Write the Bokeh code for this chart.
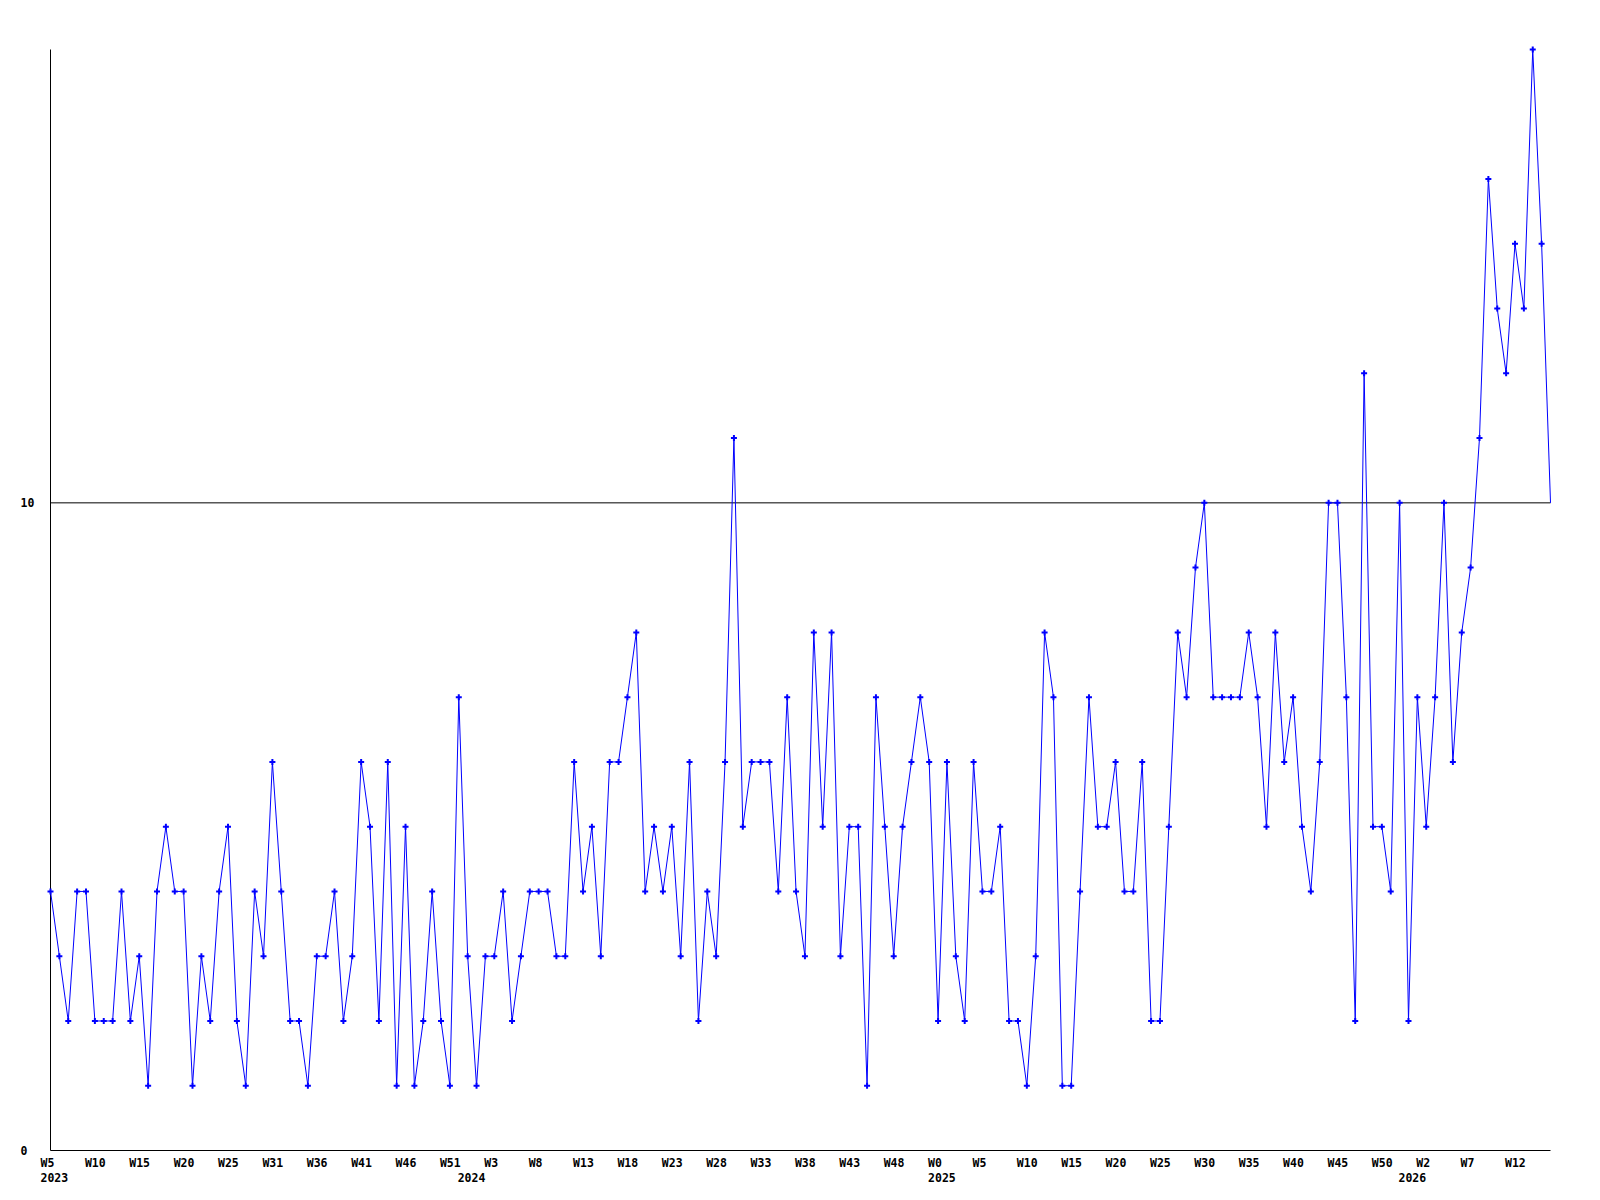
from bokeh.plotting import figure
from bokeh.models import ColumnDataSource, CDSView, IndexFilter, Range1d
from bokeh.core.properties import value
from bokeh.embed import file_html
from bokeh.resources import INLINE

# weekly counts, first point = 2023 W5
counts = [
    4, 3, 2, 4, 4, 2, 2, 2, 4, 2, 3, 1, 4, 5, 4, 4, 1, 3, 2, 4, 5, 2, 1, 4, 3, 6, 4, 2, 2,
    1, 3, 3, 4, 2, 3, 6, 5, 2, 6, 1, 5, 1, 2, 4, 2, 1, 7, 3, 1, 3, 3, 4, 2, 3, 4, 4, 4,
    3, 3, 6, 4, 5, 3, 6, 6, 7, 8, 4, 5, 4, 5, 3, 6, 2, 4, 3, 6, 11, 5, 6, 6, 6, 4, 7, 4,
    3, 8, 5, 8, 3, 5, 5, 1, 7, 5, 3, 5, 6, 7, 6, 2, 6, 3, 2, 6, 4, 4, 5, 2, 2, 1, 3, 8,
    7, 1, 1, 4, 7, 5, 5, 6, 4, 4, 6, 2, 2, 5, 8, 7, 9, 10, 7, 7, 7, 7, 8, 7, 5, 8, 6, 7, 5,
    4, 6, 10, 10, 7, 2, 12, 5, 5, 4, 10, 2, 7, 5, 7, 10, 6, 8, 9, 11, 15, 13, 12, 14, 13, 17, 14, 10,
]

week_labels = ["W5", "W10", "W15", "W20", "W25", "W31", "W36", "W41", "W46", "W51",
               "W3", "W8", "W13", "W18", "W23", "W28", "W33", "W38", "W43", "W48",
               "W0", "W5", "W10", "W15", "W20", "W25", "W30", "W35", "W40", "W45", "W50",
               "W2", "W7", "W12"]
week_label_index = [5 * i for i in range(len(week_labels))]

year_labels = ["2023", "2024", "2025", "2026"]
year_label_index = [0, 47, 100, 153]

y_tick_values = [0, 10]
y_tick_labels = ["0", "10"]

n = len(counts)
xs = list(range(n))
ymax = max(counts)

W, H = 1580, 1192
# frame pixel placement of the data area (layout)
left_px, right_px = 50, 30
top_px, bottom_px = 49, 42
ppx = (W - left_px - right_px) / (n - 1)
ppy = (H - top_px - bottom_px) / ymax

p = figure(width=W, height=H, output_backend="svg", toolbar_location=None,
           x_axis_type=None, y_axis_type=None, min_border=0,
           x_range=Range1d(-left_px / ppx, (n - 1) + right_px / ppx),
           y_range=Range1d(-bottom_px / ppy, ymax + top_px / ppy))
p.outline_line_color = None
p.background_fill_color = "white"
p.border_fill_color = "white"
p.xgrid.visible = False
p.ygrid.visible = False

font = value("DejaVu Sans Mono")

# axes lines and the gridline at 10
p.segment(x0=[0, 0, 0], y0=[0, 0, 10], x1=[0, n - 1, n - 1], y1=[ymax, 0, 10],
          line_color="black", line_width=1)

src = ColumnDataSource(dict(x=xs, y=counts))
p.line("x", "y", source=src, line_color="#0000ff", line_width=1)
p.scatter("x", "y", source=src, marker="cross", size=6, line_width=2,
          line_color="#0000ff", view=CDSView(filter=IndexFilter(list(range(n - 1)))))

# y tick labels
p.text(x=[0] * len(y_tick_values), y=y_tick_values, text=y_tick_labels,
       x_offset=-30, text_align="left", text_baseline="middle",
       text_font=font, text_font_style="bold", text_font_size="11.5px", text_color="black")

# week labels
p.text(x=week_label_index, y=[0] * len(week_labels), text=week_labels,
       x_offset=-10, y_offset=12, text_align="left", text_baseline="middle",
       text_font=font, text_font_style="bold", text_font_size="11.5px", text_color="black")

# year labels
p.text(x=year_label_index, y=[0] * len(year_labels), text=year_labels,
       x_offset=-10, y_offset=27, text_align="left", text_baseline="middle",
       text_font=font, text_font_style="bold", text_font_size="11.5px", text_color="black")

open("out.html", "w").write(file_html(p, INLINE))
